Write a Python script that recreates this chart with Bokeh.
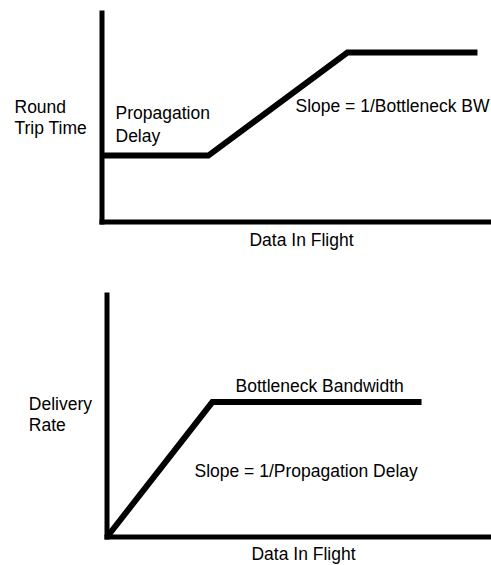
from bokeh.plotting import figure
from bokeh.layouts import column
from bokeh.models import Range1d, Label, BoxAnnotation
from bokeh.embed import file_html
from bokeh.resources import INLINE

# ---- data (arbitrary units 0..10) ----
rtt_x = [0.0, 2.73, 6.30, 9.64]          # data in flight
rtt_y = [3.14, 3.14, 8.01, 8.01]         # round trip time
rate_x = [0.0, 2.74, 8.18]               # data in flight
rate_y = [0.0, 5.52, 5.52]               # delivery rate

x_label = "Data In Flight"
rtt_ylabel = ["Round", "Trip Time"]
rate_ylabel = ["Delivery", "Rate"]
rtt_notes = ["Propagation", "Delay", "Slope = 1/Bottleneck BW"]
rate_notes = ["Bottleneck Bandwidth", "Slope = 1/Propagation Delay"]

# ---- styling / layout constants (pixels) ----
FONT = "Liberation Sans"
FS = "17.5px"
W = 491
AXW = 5      # axis line thickness
CURVE_W = 6
TEXT_SHIFT = 5.5   # baseline correction for the svg text renderer


class Chart:
    """A figure whose frame fills the canvas; origin of the drawn axes at (x0px, y0px)."""

    def __init__(self, height, x0px, y0px, ytop_px):
        self.h = height
        self.x0 = x0px
        self.y0 = y0px
        self.xs = (W - x0px) / 10.0          # px per x unit (0..10 spans to right edge)
        self.ys = (y0px - ytop_px) / 10.0    # px per y unit (0..10 spans to axis top)
        xr = Range1d(-x0px / self.xs, (W - x0px) / self.xs)
        yr = Range1d(-(height - y0px) / self.ys, y0px / self.ys)
        p = figure(width=W, height=height, output_backend="svg", toolbar_location=None,
                   x_range=xr, y_range=yr, x_axis_type=None, y_axis_type=None,
                   min_border=0, min_border_left=0, min_border_right=0,
                   min_border_top=0, min_border_bottom=0,
                   background_fill_color="white", border_fill_color="white")
        p.outline_line_color = None
        p.grid.visible = False
        self.p = p
        hx = AXW / 2 / self.xs
        hy = AXW / 2 / self.ys
        # y axis line
        p.add_layout(BoxAnnotation(left=-hx, right=hx, bottom=-hy, top=10.0,
                                   fill_color="black", fill_alpha=1.0, line_alpha=0))
        # x axis line
        p.add_layout(BoxAnnotation(left=-hx, right=xr.end, bottom=-hy, top=hy,
                                   fill_color="black", fill_alpha=1.0, line_alpha=0))

    def fx(self, px):
        return (px - self.x0) / self.xs

    def fy(self, py):
        return (self.y0 - py) / self.ys

    def text(self, txt, px, py, align="left"):
        self.p.add_layout(Label(x=self.fx(px), y=self.fy(py - TEXT_SHIFT), text=txt,
                                text_font=FONT, text_font_size=FS, text_color="black",
                                text_align=align, text_baseline="alphabetic"))


# ---- top chart: RTT vs data in flight ----
c1 = Chart(272, 101.5, 221.5, 10)
c1.p.line(rtt_x, rtt_y, line_width=CURVE_W, line_color="black", line_join="miter", line_cap="butt")
c1.text(rtt_ylabel[0], 14, 111.5)
c1.text(rtt_ylabel[1], 14, 132.7)
c1.text(rtt_notes[0], 115, 118.3)
c1.text(rtt_notes[1], 115, 140.7)
c1.text(rtt_notes[2], 295, 111.2)
c1.text(x_label, 301, 245, align="center")

# ---- bottom chart: delivery rate vs data in flight ----
c2 = Chart(293, 106.5, 264.5, 20)
c2.p.line(rate_x, rate_y, line_width=CURVE_W, line_color="black", line_join="miter", line_cap="butt")
c2.text(rate_ylabel[0], 28.3, 137)
c2.text(rate_ylabel[1], 28.3, 158)
c2.text(rate_notes[0], 235, 119)
c2.text(rate_notes[1], 194, 203.7)
c2.text(x_label, 303, 287.3, align="center")

layout = column(c1.p, c2.p, spacing=0)
open("out.html", "w").write(file_html(layout, INLINE))
